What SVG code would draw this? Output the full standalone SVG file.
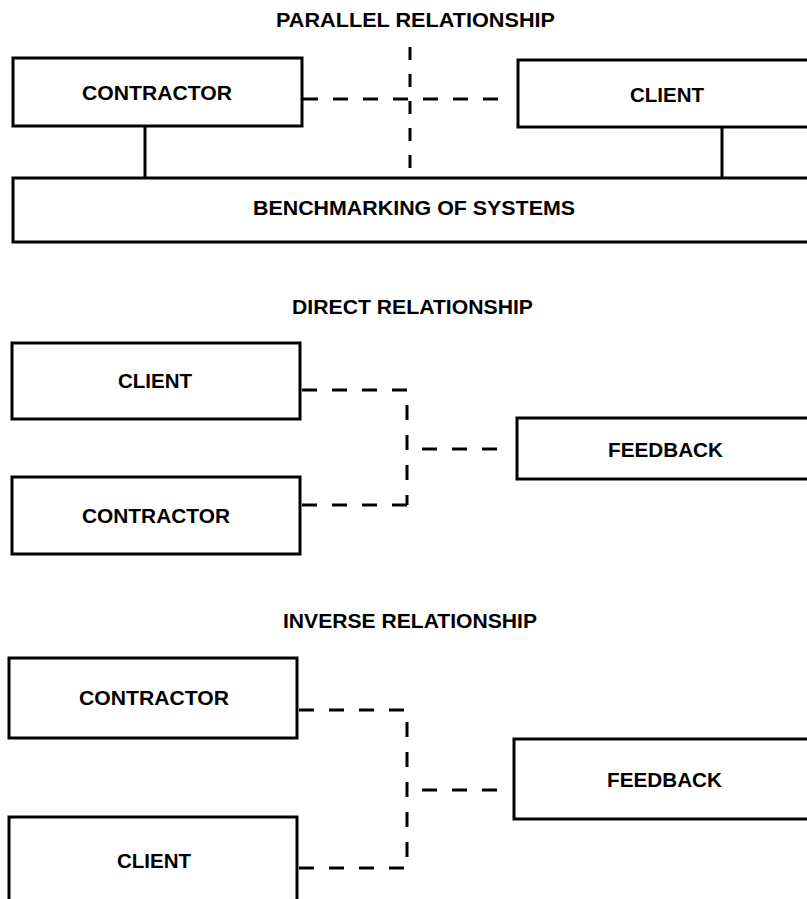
<svg xmlns="http://www.w3.org/2000/svg" width="807" height="899" viewBox="0 0 807 899">
<style>
.box{fill:#fff;stroke:#000;stroke-width:3}
.t{font-family:"Liberation Sans",Arial,sans-serif;font-weight:bold;font-size:21px;fill:#000}
.solid{fill:none;stroke:#000;stroke-width:3}
.dash{fill:none;stroke:#000;stroke-width:3;stroke-dasharray:15 15}
</style>
<rect width="807" height="899" fill="#fff"/>
<text class="t" x="276" y="27" textLength="279" lengthAdjust="spacingAndGlyphs">PARALLEL RELATIONSHIP</text>
<text class="t" x="292" y="314" textLength="241" lengthAdjust="spacingAndGlyphs">DIRECT RELATIONSHIP</text>
<text class="t" x="283" y="628" textLength="254" lengthAdjust="spacingAndGlyphs">INVERSE RELATIONSHIP</text>
<g id="connectors">
<path class="solid" d="M145,126 V178 M722,127 V178"/>
<path class="dash" d="M303,99 H502"/>
<path class="dash" style="stroke-dasharray:13 14" d="M410,47 V178"/>
<path class="dash" d="M302,390 H407 V505"/>
<path class="dash" d="M302,505 H407"/>
<path class="dash" d="M422,449 H500"/>
<path class="dash" d="M299,710 H407 V868"/>
<path class="dash" d="M299,868 H407"/>
<path class="dash" d="M422,790 H499"/>
</g>
<g id="p-contractor"><rect class="box" x="13" y="58" width="289" height="68"/><text class="t" x="82" y="100" textLength="150" lengthAdjust="spacingAndGlyphs">CONTRACTOR</text></g>
<g id="p-client"><rect class="box" x="518" y="60" width="320" height="67"/><text class="t" x="630" y="102" textLength="74" lengthAdjust="spacingAndGlyphs">CLIENT</text></g>
<g id="p-bench"><rect class="box" x="13" y="178" width="830" height="64"/><text class="t" x="253" y="215" textLength="322" lengthAdjust="spacingAndGlyphs">BENCHMARKING OF SYSTEMS</text></g>
<g id="d-client"><rect class="box" x="12" y="343" width="288" height="76"/><text class="t" x="118" y="388" textLength="74" lengthAdjust="spacingAndGlyphs">CLIENT</text></g>
<g id="d-contractor"><rect class="box" x="12" y="477" width="288" height="77"/><text class="t" x="82" y="523" textLength="148" lengthAdjust="spacingAndGlyphs">CONTRACTOR</text></g>
<g id="d-feedback"><rect class="box" x="517" y="418" width="320" height="61"/><text class="t" x="608" y="457" textLength="115" lengthAdjust="spacingAndGlyphs">FEEDBACK</text></g>
<g id="i-contractor"><rect class="box" x="9" y="658" width="288" height="80"/><text class="t" x="79" y="705" textLength="150" lengthAdjust="spacingAndGlyphs">CONTRACTOR</text></g>
<g id="i-client"><rect class="box" x="9" y="817" width="288" height="100"/><text class="t" x="117" y="868" textLength="74" lengthAdjust="spacingAndGlyphs">CLIENT</text></g>
<g id="i-feedback"><rect class="box" x="514" y="739" width="320" height="80"/><text class="t" x="607" y="787" textLength="115" lengthAdjust="spacingAndGlyphs">FEEDBACK</text></g>
</svg>
